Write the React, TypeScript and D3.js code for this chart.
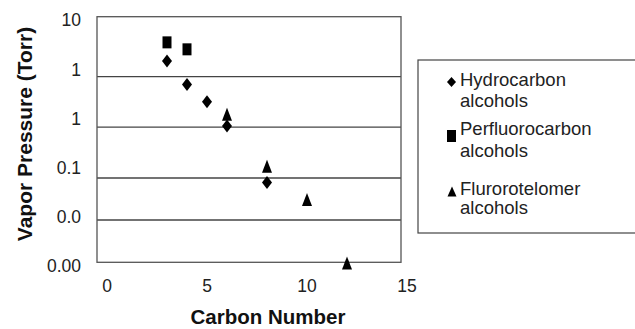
import * as d3 from "d3";

// carbon number / vapor pressure (Torr)
const hydroCarbon = [3, 4, 5, 6, 8];
const hydroVp = [1.47, 0.49, 0.218, 0.07, 0.00498];
const perfluoroCarbon = [3, 4];
const perfluoroVp = [3.52, 2.54];
const telomerCarbon = [6, 8, 10, 12];
const telomerVp = [0.121, 0.0107, 0.00224, 0.000115];

const xTicks = [0, 5, 10, 15];
const yTickValues = [10, 1, 0.1, 0.01, 0.001, 0.0001];
const yTickLabels = ["10", "1", "1", "0.1", "0.0", "0.00"];
const gridValues = [0.711, 0.0668, 0.00615, 0.000861];

const legendNames = [
  ["Hydrocarbon", "alcohols"],
  ["Perfluorocarbon", "alcohols"],
  ["Flurorotelomer", "alcohols"],
];

const W = 635;
const H = 329;
const font = "'Liberation Sans', Arial, Helvetica, sans-serif";

const x = d3.scaleLinear().domain([-0.5, 14.7]).range([97, 401]);
const y = d3.scaleLog().domain([1.19e-4, 11.7]).range([262.3, 16.7]);

const diamond = (cx: number, cy: number, w = 10, h = 13) => {
  const p = d3.path();
  p.moveTo(cx, cy - h / 2);
  p.lineTo(cx + w / 2, cy);
  p.lineTo(cx, cy + h / 2);
  p.lineTo(cx - w / 2, cy);
  p.closePath();
  return p.toString();
};
const square = (cx: number, cy: number, w = 9, h = 12) => {
  const p = d3.path();
  p.rect(cx - w / 2, cy - h / 2, w, h);
  return p.toString();
};
const triangle = (cx: number, cy: number, w = 10, h = 13) => {
  const p = d3.path();
  p.moveTo(cx, cy - h / 2);
  p.lineTo(cx + w / 2, cy + h / 2);
  p.lineTo(cx - w / 2, cy + h / 2);
  p.closePath();
  return p.toString();
};

export default function App() {
  const [x0, x1] = x.range();
  const [yb, yt] = y.range();

  return (
    <svg
      width={W}
      height={H}
      style={{ position: "absolute", left: 0, top: 0, background: "#fff" }}
      fontFamily={font}
    >
      <rect x={0} y={0} width={W} height={H} fill="#fff" />

      {/* grid lines */}
      {gridValues.map((v) => (
        <line key={v} x1={x0} x2={x1} y1={y(v)} y2={y(v)} stroke="#444" strokeWidth={1.3} />
      ))}

      {/* frame */}
      <rect x={x0} y={yt} width={x1 - x0} height={yb - yt} fill="none" stroke="#555" strokeWidth={1.3} />

      {/* y tick labels */}
      {yTickValues.map((v, i) => (
        <text key={v} x={81} y={y(v)} dy="0.36em" textAnchor="end" fontSize={17.5} fill="#222">
          {yTickLabels[i]}
        </text>
      ))}

      {/* x tick labels */}
      {xTicks.map((t) => (
        <text key={t} x={x(t)} y={292} textAnchor="middle" fontSize={17.5} fill="#222">
          {t}
        </text>
      ))}

      <text x={268} y={324} textAnchor="middle" fontSize={20.5} fontWeight="bold" fill="#111">
        Carbon Number
      </text>
      <text
        transform="translate(32,134) rotate(-90)"
        textAnchor="middle"
        fontSize={21}
        fontWeight="bold"
        fill="#111"
      >
        Vapor Pressure (Torr)
      </text>

      {/* points */}
      {perfluoroCarbon.map((c, i) => (
        <path key={"p" + i} d={square(x(c), y(perfluoroVp[i]))} fill="#000" />
      ))}
      {hydroCarbon.map((c, i) => (
        <path key={"h" + i} d={diamond(x(c), y(hydroVp[i]))} fill="#000" />
      ))}
      {telomerCarbon.map((c, i) => (
        <path key={"t" + i} d={triangle(x(c), y(telomerVp[i]))} fill="#000" />
      ))}

      {/* legend */}
      <rect x={418} y={60} width={240} height={173} fill="#fff" stroke="#444" strokeWidth={1.2} />
      <path d={diamond(451.5, 82, 9, 10)} fill="#000" />
      <path d={square(451.5, 136, 9, 12)} fill="#000" />
      <path d={triangle(452, 191.5, 9, 10)} fill="#000" />
      {legendNames.map((lines, i) => {
        const base = [86, 135, 195][i];
        const second = [107, 157, 214][i];
        return (
          <g key={i} fontSize={18.5} fill="#222">
            <text x={460} y={base}>{lines[0]}</text>
            <text x={460} y={second}>{lines[1]}</text>
          </g>
        );
      })}
    </svg>
  );
}
